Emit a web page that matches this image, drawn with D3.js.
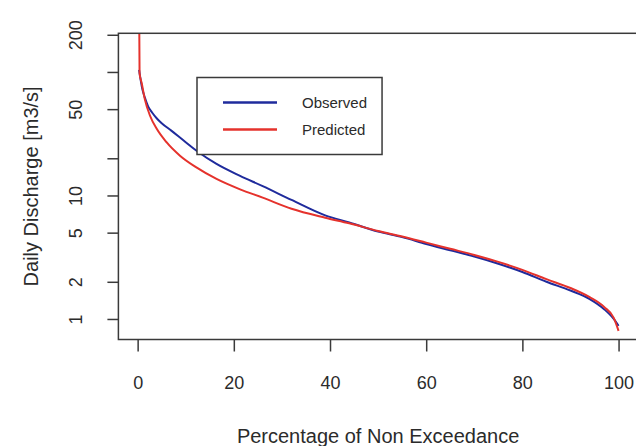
<!DOCTYPE html>
<html>
<head>
<meta charset="utf-8">
<script src="https://cdn.jsdelivr.net/npm/d3@7"></script>
<style>
  html, body { margin: 0; padding: 0; background: #fff; }
  svg { display: block; }
  text { font-family: "Liberation Sans", Arial, sans-serif; fill: #2b2b2b; }
</style>
</head>
<body>
<div id="chart"></div>
<script>
// Flow duration curves: daily discharge against percentage of non exceedance
const obsPct = [0.3, 1.0, 1.5, 2.2, 3, 4, 5, 7, 9.5, 12.6, 16.4, 21.3, 26, 32, 39, 44, 50, 55, 60, 65, 70, 75, 80, 85, 90, 94, 97, 99, 100];
const obsQ   = [104, 72, 62, 52.4, 47, 42, 38.5, 33.5, 28, 22.5, 18, 14.4, 11.9, 9.2, 6.9, 6.05, 5.1, 4.6, 4.05, 3.6, 3.2, 2.8, 2.4, 2.0, 1.7, 1.45, 1.2, 1.0, 0.88];

const predPct = [0.3, 0.4, 0.85, 1.5, 2.6, 4, 6, 8.8, 12.3, 16.4, 21.3, 26, 32, 39, 44, 50, 55, 60, 65, 70, 75, 80, 85, 90, 94, 97, 99, 100];
const predQ   = [400, 98, 81, 60, 44, 34.5, 27, 21, 16.8, 13.6, 11.2, 9.6, 7.8, 6.6, 5.95, 5.15, 4.65, 4.15, 3.7, 3.3, 2.9, 2.5, 2.1, 1.78, 1.5, 1.25, 1.02, 0.8];

const xTicks = [0, 20, 40, 60, 80, 100];
const yTicks = [1, 2, 5, 10, 20, 50, 100, 200];
const yTickLabels = ["1", "2", "5", "10", "", "50", "", "200"];

const seriesNames = ["Observed", "Predicted"];
const seriesColors = ["#1f2b9c", "#e5322c"];

const W = 636, H = 446;
const plot = { left: 118.4, right: 637.8, top: 33.3, bottom: 339.5 };

const svg = d3.select("#chart").append("svg")
  .attr("width", W).attr("height", H);

const x = d3.scaleLinear().domain([-4, 104]).range([plot.left, plot.right]);
const y = d3.scaleLog().domain([0.682, 205.6]).range([plot.bottom, plot.top]);

svg.append("clipPath").attr("id", "plotClip")
  .append("rect")
  .attr("x", plot.left).attr("y", plot.top)
  .attr("width", plot.right - plot.left).attr("height", plot.bottom - plot.top);

// curves
const line = d3.line()
  .x(d => x(d[0]))
  .y(d => y(d[1]))
  .curve(d3.curveMonotoneX);

const series = [
  obsPct.map((p, i) => [p, obsQ[i]]),
  predPct.map((p, i) => [p, predQ[i]])
];

const g = svg.append("g").attr("clip-path", "url(#plotClip)");
series.forEach((s, i) => {
  g.append("path")
    .datum(s)
    .attr("d", line)
    .attr("fill", "none")
    .attr("stroke", seriesColors[i])
    .attr("stroke-width", 2)
    .attr("stroke-linejoin", "round");
});

// frame
svg.append("rect")
  .attr("x", plot.left).attr("y", plot.top)
  .attr("width", plot.right - plot.left).attr("height", plot.bottom - plot.top)
  .attr("fill", "none").attr("stroke", "#3a3a3a").attr("stroke-width", 1.5);

// x axis
const xAxis = d3.axisBottom(x).tickValues(xTicks).tickSize(12).tickPadding(25);
const gx = svg.append("g").attr("transform", `translate(0,${plot.bottom})`).call(xAxis);
gx.select(".domain").remove();
gx.selectAll(".tick line").attr("stroke", "#3a3a3a").attr("stroke-width", 1.5);
gx.selectAll(".tick text").attr("font-size", 18).attr("fill", "#2b2b2b")
  .attr("font-family", "Liberation Sans, Arial, sans-serif");

// y axis
const yAxis = d3.axisLeft(y).tickValues(yTicks).tickSize(11)
  .tickFormat((d, i) => yTickLabels[i]);
const gy = svg.append("g").attr("transform", `translate(${plot.left},0)`).call(yAxis);
gy.select(".domain").remove();
gy.selectAll(".tick line").attr("stroke", "#3a3a3a").attr("stroke-width", 1.5);
gy.selectAll(".tick text")
  .attr("font-size", 18).attr("fill", "#2b2b2b")
  .attr("font-family", "Liberation Sans, Arial, sans-serif")
  .attr("x", null).attr("dy", null)
  .attr("text-anchor", "middle")
  .attr("transform", "translate(-36,0) rotate(-90)");

// axis titles
svg.append("text")
  .attr("x", (x(0) + x(100)) / 2).attr("y", 443)
  .attr("text-anchor", "middle").attr("font-size", 20)
  .text("Percentage of Non Exceedance");

svg.append("text")
  .attr("transform", `translate(38,${(plot.top + plot.bottom) / 2}) rotate(-90)`)
  .attr("text-anchor", "middle").attr("font-size", 20)
  .text("Daily Discharge [m3/s]");

// legend
const leg = svg.append("g");
const legX = 197, legY = 77.5, rowH = 27;
const legBox = leg.append("rect")
  .attr("x", legX).attr("y", legY).attr("height", 77)
  .attr("fill", "#fff").attr("stroke", "#3a3a3a").attr("stroke-width", 1.5);
let maxW = 0;
seriesNames.forEach((name, i) => {
  const cy = legY + 25 + i * rowH;
  leg.append("line")
    .attr("x1", legX + 26).attr("x2", legX + 80)
    .attr("y1", cy).attr("y2", cy)
    .attr("stroke", seriesColors[i]).attr("stroke-width", 2.5);
  const t = leg.append("text")
    .attr("x", legX + 105).attr("y", cy).attr("dy", "0.35em")
    .attr("font-size", 15).text(name);
  maxW = Math.max(maxW, t.node().getComputedTextLength());
});
legBox.attr("width", 105 + maxW + 15);
</script>
</body>
</html>
